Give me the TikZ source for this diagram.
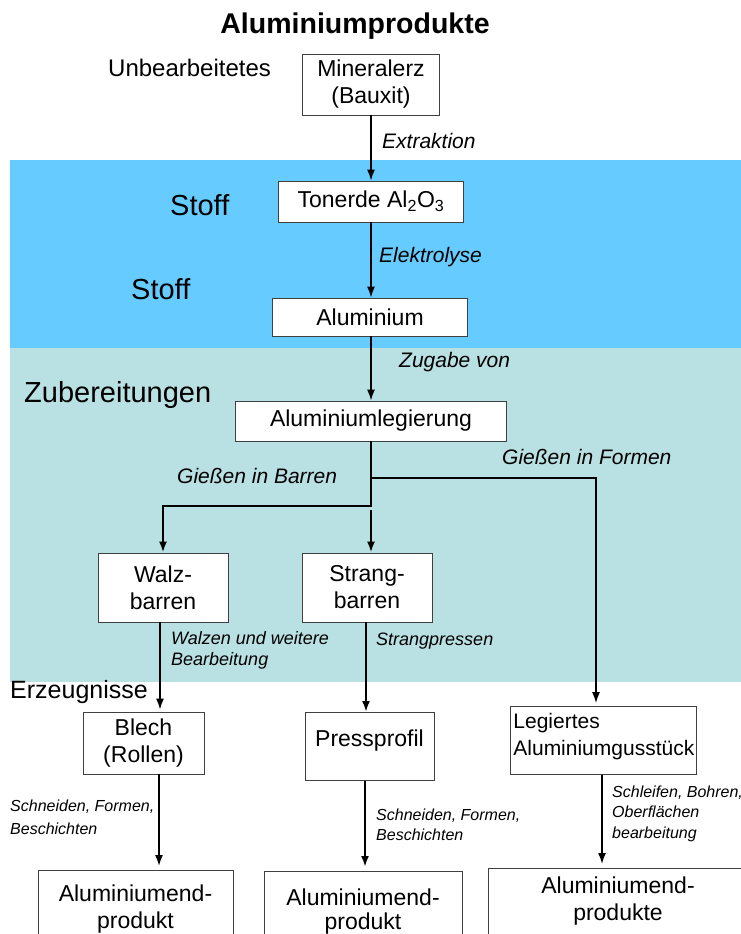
\documentclass[tikz,border=0pt]{standalone}
\usepackage{fontspec}
\setmainfont{Liberation Sans}
\usetikzlibrary{arrows.meta}
\tikzset{% change default arrow tips
    >={Latex[length=11pt,width=8pt]}
}
\definecolor{stoffblau}{HTML}{66CCFF}
\definecolor{zubereitung}{HTML}{B9E0E3}

\begin{document}
\begin{tikzpicture}[x=1pt,y=-1pt,
    kasten/.style={draw=black!75, line width=0.8pt, fill=white, align=center, inner sep=0pt, font=\fontsize{23}{27}\selectfont},
    verfahren/.style={anchor=west, align=left, inner sep=0pt, font=\itshape\fontsize{21}{25}\selectfont},
    klein/.style={anchor=west, align=left, inner sep=0pt, font=\itshape\fontsize{16.5}{21}\selectfont},
    stufe/.style={anchor=west, inner sep=0pt},
    fluss/.style={->, line width=1.6pt},
    ]
    \useasboundingbox (0,0) rectangle (741,934);
    \clip (0,0) rectangle (741,934);

    % bands
    \fill[stoffblau] (10,160) rectangle (741,348);
    \fill[zubereitung] (10,348) rectangle (741,682);

    % title and stages
    \node (titel) at (355,26) {\bfseries\fontsize{28.5}{34}\selectfont Aluminiumprodukte};
    \node[stufe, font=\fontsize{24}{29}\selectfont] (unbearb) at (108,68) {Unbearbeitetes};
    \node[stufe, font=\fontsize{29}{35}\selectfont] (stoffa) at (170,205) {Stoff};
    \node[stufe, font=\fontsize{29}{35}\selectfont] (stoffb) at (131,289) {Stoff};
    \node[stufe, font=\fontsize{29}{35}\selectfont] (zubereit) at (24,395) {Zubereitungen};
    \node[stufe, font=\fontsize{25}{30}\selectfont] (erzeug) at (10,692) {Erzeugnisse};

    % boxes
    \node[kasten, minimum width=137pt, minimum height=61pt] (mineral) at (371,84.5) {Mineralerz\\(Bauxit)};
    \node[kasten, minimum width=185pt, minimum height=41pt] (tonerde) at (371,201.5) {Tonerde Al\textsubscript{2}O\textsubscript{3}};
    \node[kasten, minimum width=195pt, minimum height=38pt] (alu) at (370,317) {Aluminium};
    \node[kasten, minimum width=271pt, minimum height=40pt] (legier) at (371,421) {Aluminiumlegierung};
    \node[kasten, minimum width=130pt, minimum height=69pt] (walz) at (163,587.5) {Walz-\\barren};
    \node[kasten, minimum width=130pt, minimum height=69pt] (strang) at (367,587.5) {Strang-\\barren};
    \node[kasten, minimum width=121pt, minimum height=62pt] (blech) at (143.5,743) {Blech\\(Rollen)};
    \node[kasten, anchor=north, minimum width=129pt, text height=17pt, text depth=17pt, inner ysep=17pt] (press) at (369.5,712) {Pressprofil};
    \node[kasten, anchor=north west, text width=180pt, align=left, inner xsep=3pt, inner ysep=6.5pt, text depth=40pt, font=\fontsize{21}{27}\selectfont] (legiert) at (510,706) {Legiertes\\Aluminiumgusstück};
    \node[kasten, anchor=north, minimum width=195pt, inner ysep=14pt, text depth=60pt] (enda) at (135.5,870) {Aluminiumend-\\produkt};
    \node[kasten, anchor=north, minimum width=198pt, inner ysep=17pt, text depth=60pt, font=\fontsize{23}{24.5}\selectfont] (endb) at (363,871) {Aluminiumend-\\produkt};
    \node[kasten, anchor=north, minimum width=260pt, inner ysep=8pt, text depth=60pt] (endc) at (618,868) {Aluminiumend-\\produkte};

    % helper coordinates
    \coordinate (abzweig) at (371,478);
    \coordinate (knick) at (371,506);
    \coordinate (ansatz) at (371,510);
    \coordinate (gussx) at (596,0);
    \coordinate (walzx) at (160,0);
    \coordinate (strangx) at (366,0);
    \coordinate (blechx) at (159,0);
    \coordinate (pressx) at (365,0);
    \coordinate (legx) at (602,0);

    % connectors
    \draw[fluss] (mineral) -- (tonerde);
    \draw[fluss] (tonerde) -- (tonerde |- alu.north);
    \draw[fluss] (alu.south -| legier) -- (legier);
    \draw[fluss, line width=2.6pt] (legier.south) -- (knick) -| (walz.north);
    \draw[fluss, line width=2.4pt] (ansatz) -- (ansatz |- strang.north);
    \draw[->, line width=1.2pt, shorten >=3pt] (abzweig) -| (gussx |- legiert.north);
    \draw[fluss, shorten >=2pt] (walzx |- walz.south) -- (walzx |- blech.north);
    \draw[fluss, line width=2.2pt] (strangx |- strang.south) -- (strangx |- press.north);
    \draw[fluss, shorten >=4pt] (blechx |- blech.south) -- (blechx |- enda.north);
    \draw[fluss, line width=2.2pt, shorten >=4pt] (pressx |- press.south) -- (pressx |- endb.north);
    \draw[fluss, shorten >=4pt] (legx |- legiert.south) -- (legx |- endc.north);

    % process labels
    \node[verfahren] (extrakt) at (382,141) {Extraktion};
    \node[verfahren] (elektro) at (379,257) {Elektrolyse};
    \node[verfahren] (zugabe) at (399,362) {Zugabe von};
    \node[verfahren] (barrenlbl) at (177,476) {Gießen in Barren};
    \node[verfahren] (formenlbl) at (502,457) {Gießen in Formen};
    \node[klein, font=\itshape\fontsize{18}{21}\selectfont] (walzlbl) at (171,650.5) {Walzen und weitere\\Bearbeitung};
    \node[klein, font=\itshape\fontsize{18}{21}\selectfont] (presslbl) at (376,641) {Strangpressen};
    \node[klein, font=\itshape\fontsize{16}{23}\selectfont] (schneida) at (10,817.5) {Schneiden, Formen,\\Beschichten};
    \node[klein, font=\itshape\fontsize{16}{20}\selectfont] (schneidb) at (376,824.5) {Schneiden, Formen,\\Beschichten};
    \node[klein, font=\itshape\fontsize{16}{20.5}\selectfont] (schleif) at (612,813.5) {Schleifen, Bohren,\\Oberflächen\\bearbeitung};
\end{tikzpicture}
\end{document}
